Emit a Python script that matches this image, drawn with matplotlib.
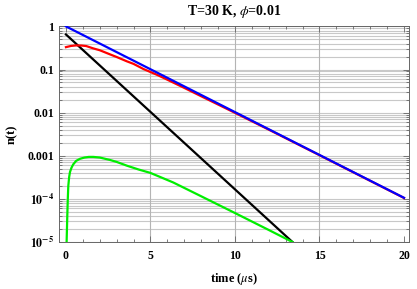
"""
Decay curves n(t) on a log scale, T=30 K, phi=0.01.
Saves out.png.
"""

import numpy as np
import matplotlib.pyplot as plt
from matplotlib.ticker import FixedLocator, NullFormatter

plt.rcParams['font.family'] = ['Liberation Serif', 'DejaVu Serif']
plt.rcParams['mathtext.fontset'] = 'stix'

# values
t_blue = [0.0, 20.0]
n_blue = [1.0, 1.06e-4]

t_black = [0.0, 13.4]
n_black = [0.65, 1.0e-5]

t_red = [0.0, 0.3, 0.6, 0.9, 1.2, 1.6, 2.0, 2.6, 3.0, 3.6, 4.0, 4.6, 5.4, 6.0, 7.0, 8.0, 10.0, 12.0,
         15.0, 20.0]
n_red = [0.33, 0.352, 0.362, 0.36, 0.35, 0.31, 0.28, 0.225, 0.195, 0.155, 0.135, 0.102, 0.075,
         0.058, 0.0375, 0.024, 0.0099, 0.00403, 0.00103, 1.05e-4]

t_green = [0.04, 0.06, 0.08, 0.11, 0.14, 0.19, 0.24, 0.33, 0.43, 0.6, 0.83, 1.1, 1.35, 1.62, 2.0,
           2.6, 3.0, 3.6, 4.3, 5.0, 6.35, 8.0, 10.0, 12.0, 13.4]
n_green = [1.0e-5, 2.0e-5, 4.0e-5, 1.0e-4, 2.0e-4, 3.2e-4, 4.2e-4, 5.3e-4, 6.3e-4, 7.6e-4, 8.5e-4,
           9.1e-4, 9.4e-4, 9.4e-4, 9.1e-4, 8.0e-4, 7.2e-4, 5.9e-4, 4.8e-4, 4.0e-4, 2.4e-4,
           1.15e-4, 4.7e-5, 1.9e-5, 1.0e-5]

y_major = [1e-5, 1e-4, 1e-3, 1e-2, 1e-1, 1]
y_labels = [r'$\mathbf{10^{-5}}$', r'$\mathbf{10^{-4}}$', '0.001', '0.01', '0.1', '1']
x_major = [0, 5, 10, 15, 20]


def make_plot():
    fig = plt.figure(figsize=(4.17, 2.89), dpi=100)
    ax = fig.add_axes([0.1415, 0.1626, 0.8395, 0.7474])
    ax.set_yscale('log')

    # grid lines: every minor step in y, 5,10,15 in x
    y_minor = [m * d for d in y_major[:-1] for m in range(2, 10)]
    for y in y_minor + y_major:
        ax.axhline(y, color='#c8c8c8', lw=0.8, zorder=0)
    for x in [5, 10, 15]:
        ax.axvline(x, color='#b4b4b4', lw=0.8, zorder=0)

    ax.plot(t_black, n_black, color='black', lw=1.6, zorder=3)
    ax.plot(t_green, n_green, color='#00ee00', lw=1.6, zorder=3)
    ax.plot(t_red, n_red, color='#ff0000', lw=1.6, zorder=3)
    ax.plot(t_blue, n_blue, color='#0000ff', lw=1.6, zorder=4)

    ax.set_xlim(-0.41, 20.3)
    ax.set_ylim(1e-5, 1.02)

    ax.xaxis.set_major_locator(FixedLocator(x_major))
    ax.xaxis.set_minor_locator(FixedLocator(np.arange(0, 21, 1)))
    ax.yaxis.set_major_locator(FixedLocator(y_major))
    ax.yaxis.set_minor_locator(FixedLocator(y_minor))
    ax.set_yticklabels(y_labels)
    ax.yaxis.set_minor_formatter(NullFormatter())
    ax.set_xticklabels([str(x) for x in x_major])

    ax.tick_params(which='both', direction='in', top=True, right=True, colors='#666666',
                   labelcolor='black', labelsize=8.5, width=0.6)
    ax.tick_params(which='major', length=4)
    ax.tick_params(which='minor', length=2)
    ax.tick_params(axis='x', pad=6)
    for lab in ax.get_xticklabels() + ax.get_yticklabels():
        lab.set_fontweight('bold')
    for sp in ax.spines.values():
        sp.set_color('#666666')
        sp.set_linewidth(0.7)

    ax.set_xlabel(r'time ($\mu$s)', fontsize=9, fontweight='bold', labelpad=6)
    ax.set_ylabel('n(t)', fontsize=9, fontweight='bold', labelpad=7)
    ax.set_title(r'T=30 K, $\phi$=0.01', fontsize=10, fontweight='bold', pad=8)

    fig.savefig('out.png', dpi=100)


if __name__ == "__main__":
    make_plot()
